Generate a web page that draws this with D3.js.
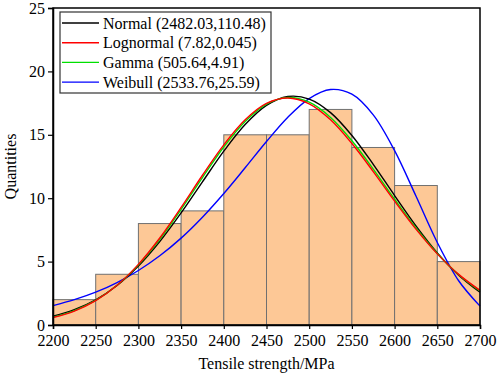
<!DOCTYPE html>
<html>
<head>
<meta charset="utf-8">
<script src="https://cdn.jsdelivr.net/npm/d3@7"></script>
<style>
  body { margin: 0; background: #fff; }
  text { font-family: "Liberation Serif", "Times New Roman", serif; }
</style>
</head>
<body>
<svg id="chart"></svg>
<script>
// histogram bins (MPa) and counts
const binStarts = [2200, 2250, 2300, 2350, 2400, 2450, 2500, 2550, 2600, 2650];
const counts = [2, 4, 8, 9, 15, 15, 17, 14, 11, 5];

// fitted curves, every 25 MPa
const curveX = [2200, 2225, 2250, 2275, 2300, 2325, 2350, 2375, 2400, 2425, 2450,
                2475, 2500, 2525, 2550, 2575, 2600, 2625, 2650, 2675, 2700];
const normalY = [0.69, 1.21, 1.99, 3.12, 4.65, 6.58, 8.84, 11.29, 13.71, 15.81, 17.32,
                 18.02, 17.82, 16.75, 14.95, 12.67, 10.21, 7.82, 5.69, 3.93, 2.58];
const lognormalY = [0.59, 1.10, 1.92, 3.13, 4.78, 6.86, 9.27, 11.81, 14.21, 16.18, 17.47,
                    17.90, 17.44, 16.18, 14.31, 12.10, 9.77, 7.56, 5.61, 3.99, 2.73];
const gammaY = [0.62, 1.14, 1.94, 3.13, 4.74, 6.76, 9.12, 11.63, 14.04, 16.05, 17.42,
                17.94, 17.57, 16.37, 14.53, 12.29, 9.92, 7.65, 5.64, 3.97, 2.68];
const weibullY = [1.53, 2.00, 2.59, 3.35, 4.30, 5.46, 6.85, 8.50, 10.37, 12.40, 14.47,
                  16.39, 17.86, 18.57, 18.20, 16.57, 13.75, 10.17, 6.51, 3.49, 1.49];

const seriesNames = ["Normal (2482.03,110.48)", "Lognormal (7.82,0.045)",
                     "Gamma (505.64,4.91)", "Weibull (2533.76,25.59)"];
const seriesColors = ["#000000", "#ff0000", "#00e000", "#0000ff"];
const seriesValues = [normalY, lognormalY, gammaY, weibullY];

const xTicks = [2200, 2250, 2300, 2350, 2400, 2450, 2500, 2550, 2600, 2650, 2700];
const yTicks = [0, 5, 10, 15, 20, 25];

const W = 498, H = 375;
const margin = { top: 8, right: 18, bottom: 50, left: 53 },
      width = W - margin.left - margin.right,
      height = H - margin.top - margin.bottom;

const root = d3.select("#chart").attr("width", W).attr("height", H);
const svg = root.append("g")
  .attr("transform", `translate(${margin.left},${margin.top})`);

const x = d3.scaleLinear().domain([2200, 2700]).range([0, width]);
const y = d3.scaleLinear().domain([0, 25]).range([height, 0]);

// bars
svg.selectAll("rect.bar")
  .data(binStarts.map((b, i) => ({ x0: b, x1: b + 50, v: counts[i] })))
  .join("rect")
  .attr("class", "bar")
  .attr("x", d => x(d.x0))
  .attr("width", d => x(d.x1) - x(d.x0))
  .attr("y", d => y(d.v))
  .attr("height", d => y(0) - y(d.v))
  .attr("fill", "#fdc896")
  .attr("stroke", "#707070")
  .attr("stroke-width", 1);

// curves
const line = d3.line()
  .x(d => x(d[0]))
  .y(d => y(d[1]))
  .curve(d3.curveCatmullRom);

// draw weibull first, then normal, gamma, lognormal like the picture stacking
[3, 0, 2, 1].forEach(i => {
  svg.append("path")
    .datum(curveX.map((cx, j) => [cx, seriesValues[i][j]]))
    .attr("fill", "none")
    .attr("stroke", seriesColors[i])
    .attr("stroke-width", 1.4)
    .attr("d", line);
});

// frame
svg.append("rect")
  .attr("width", width).attr("height", height)
  .attr("fill", "none").attr("stroke", "#000").attr("stroke-width", 1.5);

// axes
const xAxis = svg.append("g")
  .attr("transform", `translate(0,${height})`)
  .call(d3.axisBottom(x).tickValues(xTicks).tickSize(4).tickPadding(6).tickFormat(d3.format("d")));
const yAxis = svg.append("g")
  .call(d3.axisLeft(y).tickValues(yTicks).tickSize(5).tickPadding(3));
[xAxis, yAxis].forEach(a => {
  a.select(".domain").attr("stroke-width", 1.5);
  a.selectAll(".tick line").attr("stroke-width", 1.2);
  a.selectAll("text").attr("font-size", 16).attr("fill", "#000")
    .attr("font-family", "Liberation Serif, serif");
});

// axis titles
root.append("text")
  .attr("x", margin.left + width / 2).attr("y", 369)
  .attr("text-anchor", "middle").attr("font-size", 16)
  .text("Tensile strength/MPa");
root.append("text")
  .attr("transform", `translate(16,${margin.top + height / 2}) rotate(-90)`)
  .attr("text-anchor", "middle").attr("font-size", 16)
  .text("Quantities");

// legend
const legend = root.append("g").attr("transform", "translate(60,12)");
legend.append("rect")
  .attr("width", 211).attr("height", 81)
  .attr("fill", "#fff").attr("stroke", "#333").attr("stroke-width", 1.2);
seriesNames.forEach((name, i) => {
  const row = legend.append("g").attr("transform", `translate(0,${11 + i * 19.7})`);
  row.append("line")
    .attr("x1", 2).attr("x2", 39)
    .attr("stroke", seriesColors[i]).attr("stroke-width", 1.4);
  row.append("text")
    .attr("x", 43).attr("y", 5.5)
    .attr("font-size", 16)
    .text(name);
});
</script>
</body>
</html>
